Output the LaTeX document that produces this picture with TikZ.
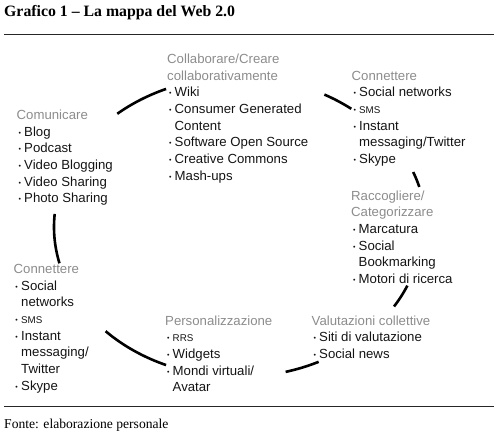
\documentclass[tikz,border=0pt]{standalone}
\usepackage{fontspec}
\setmainfont{Liberation Serif}
\setsansfont{Liberation Sans}
\usepackage{xcolor}
\usetikzlibrary{positioning}

\definecolor{headgray}{HTML}{8C8C8C}
\definecolor{itemblack}{HTML}{141414}
\newcommand{\head}[1]{\strut\textcolor{headgray}{#1}}
\newcommand{\itm}{\makebox[7.5pt][l]{\hspace{1.8pt}\raisebox{1pt}{\fontsize{7}{7}\selectfont •}}}
\newcommand{\ind}{\hspace*{7.5pt}}
\newcommand{\smallcap}[1]{{\fontsize{9.8}{9.8}\selectfont #1}}

\begin{document}
\begin{tikzpicture}[
        x=1pt, y=-1pt,
        group/.style={anchor=north west, inner sep=0pt, align=left, text=itemblack, font=\sffamily\fontsize{13.2}{16.67}\selectfont},
        ring/.style={line width=2.6pt, black},
        rule/.style={line width=1.2pt, black!85}
    ]
        \useasboundingbox (0,0) rectangle (495,437);
        \coordinate (ctr) at (238,227);

        % Title
        \node[anchor=base west, inner sep=0pt, font=\bfseries\fontsize{15.8}{18}\selectfont] (title) at (4,16) {Grafico 1 – La mappa del Web 2.0};
        \draw[rule] (4,34.3) -- (494,34.3);

        % Groups round the ring
        \node[group] (comunicare) at (16.5,107.6) {\head{Comunicare}\\ \itm Blog\\ \itm Podcast\\ \itm Video Blogging\\ \itm Video Sharing\\ \itm Photo Sharing};

        \node[group] (collaborare) at (167,51.6) {\head{Collaborare/Creare}\\ \head{collaborativamente}\\ \itm Wiki\\ \itm Consumer Generated\\ \ind Content\\ \itm Software Open Source\\ \itm Creative Commons\\ \itm Mash-ups};

        \node[group] (connettereR) at (351.5,68.3) {\head{Connettere}\\ \itm Social networks\\ \itm \smallcap{SMS}\\ \itm Instant\\ \ind messaging/Twitter\\ \itm Skype};

        \node[group] (raccogliere) at (351,188.3) {\head{Raccogliere/}\\ \head{Categorizzare}\\ \itm Marcatura\\ \itm Social\\ \ind Bookmarking\\ \itm Motori di ricerca};

        \node[group] (valutazioni) at (311.5,313.3) {\head{Valutazioni collettive}\\ \itm Siti di valutazione\\ \itm Social news};

        \node[group] (personalizzazione) at (165,313.3) {\head{Personalizzazione}\\ \itm \smallcap{RRS}\\ \itm Widgets\\ \itm Mondi virtuali/\\ \ind Avatar};

        \node[group] (connettereL) at (13.5,261.6) {\head{Connettere}\\ \itm Social\\ \ind networks\\ \itm \smallcap{SMS}\\ \itm Instant\\ \ind messaging/\\ \ind Twitter\\ \itm Skype};

        % Ring arcs
        \draw[ring] ([shift={(113:184pt and 150pt)}]ctr) arc[start angle=113, end angle=131, x radius=184pt, y radius=150pt];
        \draw[ring] ([shift={(52:184pt and 150pt)}]ctr) arc[start angle=52, end angle=62, x radius=184pt, y radius=150pt];
        \draw[ring] ([shift={(15.5:184pt and 150pt)}, xshift=4pt]ctr) arc[start angle=15.5, end angle=21.5, x radius=184pt, y radius=150pt];
        \draw[ring] ([shift={(-32:184pt and 150pt)}]ctr) arc[start angle=-32, end angle=-23, x radius=184pt, y radius=150pt];
        \draw[ring] ([shift={(-75:184pt and 150pt)}]ctr) arc[start angle=-75, end angle=-64, x radius=184pt, y radius=150pt];
        \draw[ring] ([shift={(-136:184pt and 150pt)}]ctr) arc[start angle=-136, end angle=-113, x radius=184pt, y radius=150pt];
        \draw[ring] ([shift={(175:184pt and 150pt)}]ctr) arc[start angle=175, end angle=194, x radius=184pt, y radius=150pt];

        % Source
        \draw[rule] (4,406.7) -- (494,406.7);
        \node[anchor=base west, inner sep=0pt, font=\fontsize{13.6}{16}\selectfont] (fonte) at (4,428) {Fonte: elaborazione personale};
    \end{tikzpicture}
\end{document}
